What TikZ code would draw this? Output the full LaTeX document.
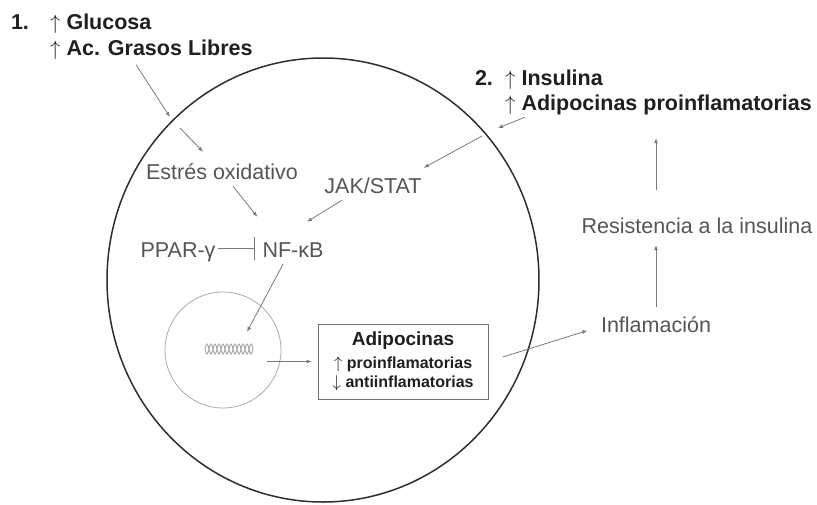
\documentclass[tikz,border=0pt]{standalone}
\usepackage{fontspec}
\setmainfont{Liberation Sans}
\usepackage{xcolor}
\usetikzlibrary{arrows.meta, positioning}

\definecolor{txtgray}{HTML}{555555}
\definecolor{linegray}{HTML}{7A7A7A}
\definecolor{dnagray}{HTML}{ABABAB}

\tikzset{
  lbl/.style={text=txtgray, font=\fontsize{21.5}{26}\selectfont, inner sep=2pt, text height=15.5pt, text depth=4.5pt},
  bld/.style={lbl, text=black!88, font=\bfseries\fontsize{21.5}{26}\selectfont},
  arr/.style={draw=linegray, line width=0.8pt, -{Latex[length=5pt,width=4pt]}},
  inhib/.style={draw=linegray, line width=0.9pt, -{Bar[width=23pt,line width=1.4pt]}},
  adbox/.style={draw=black!55, line width=0.8pt, text=black!88, align=center, font=\bfseries\fontsize{16}{19}\selectfont, minimum width=170pt, minimum height=75pt, inner sep=3pt}
}

\begin{document}
\begin{tikzpicture}[x=1pt, y=-1pt]
\useasboundingbox (0,0) rectangle (817,504);

\draw[draw=black!82, line width=1.5pt] (323,280) ellipse [x radius=216pt, y radius=222pt];
\node[circle, draw=dnagray, line width=0.8pt, minimum size=116pt] (nucleus) at (223,350) {};

\node[bld] (n1) at (20,24) {1.};
\node[bld, anchor=west] (glucosa) at (48,24) {$\uparrow$ Glucosa};
\node[bld, anchor=west] (grasos) at (48,50) {$\uparrow$ Ac. Grasos Libres};
\node[bld] (n2) at (484,80) {2.};
\node[bld, anchor=west] (insulina) at (503,80) {$\uparrow$ Insulina};
\node[bld, anchor=west] (adip2) at (503,105) {$\uparrow$ Adipocinas proinflamatorias};

\node[lbl] (estres) at (222,174) {Estrés oxidativo};
\node[lbl] (jak) at (373,188) {JAK/STAT};
\node[lbl] (ppar) at (178,252) {PPAR-γ};
\node[lbl] (nfkb) at (293,252) {NF-κB};
\node[lbl] (infl) at (656,327) {Inflamación};
\node[lbl] (resist) at (697,228) {Resistencia a la insulina};

\node[minimum width=54pt, minimum height=12pt, inner sep=0pt] (dna) at (229,349) {};
\draw[dnagray, line width=1pt] plot[domain=205:253, samples=97] (\x, {349+5*sin(45*(\x-205))});
\draw[dnagray, line width=1pt] plot[domain=205:253, samples=97] (\x, {349-5*sin(45*(\x-205))});

\node[adbox] (adipo) at (403,361.5) {{\fontsize{19}{22}\selectfont Adipocinas}\\[4pt]
  $\uparrow$ proinflamatorias\\ $\downarrow$ antiinflamatorias};

\coordinate (mA) at (170,117);
\coordinate (mAin) at (180,128);
\coordinate (mB) at (498,128);
\coordinate (mBin) at (482,136);

\draw[arr, shorten <=3pt] ([xshift=-17pt]grasos.south) -- (mA);
\draw[arr] (mAin) -- ([xshift=-19pt,yshift=10pt]estres.north);
\draw[arr] ([xshift=11pt]estres.south) -- ([xshift=-3pt,yshift=23pt]nfkb.north west);
\draw[arr] ([xshift=-31pt]jak.south) -- ([xshift=14pt,yshift=18pt]nfkb.north);
\draw[inhib, shorten >=5pt] ([yshift=4pt]ppar.east) -- ([yshift=4pt]nfkb.west);
\draw[arr] ([xshift=-10pt]nfkb.south) -- ([xshift=18pt,yshift=11pt]dna.north);
\draw[arr, shorten <=11pt, shorten >=6pt] (dna.east |- adipo.west) -- (adipo.west);
\draw[arr, shorten <=15pt, shorten >=12pt] (adipo.east) -- (infl.west);
\draw[arr, shorten <=8pt, shorten >=5pt] (infl.north) -- (infl.north |- resist.south);
\draw[arr, shorten <=26pt, shorten >=21pt] (infl.north |- resist.north) -- (infl.north |- adip2.south);
\draw[arr] ([xshift=22pt]adip2.south west) -- (mB);
\draw[arr] (mBin) -- ([yshift=8pt]jak.north east);
\end{tikzpicture}
\end{document}
